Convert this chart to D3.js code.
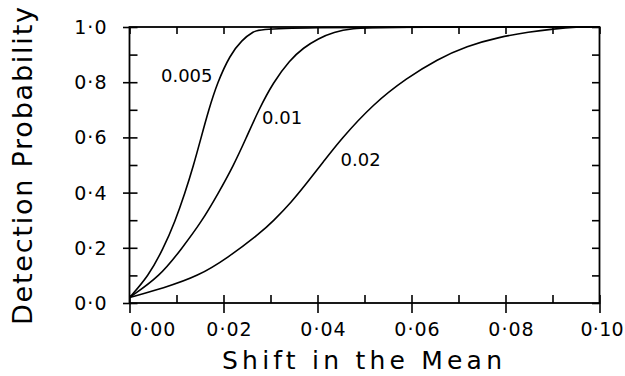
<!DOCTYPE html>
<html>
<head>
<meta charset="utf-8">
<script src="https://cdn.jsdelivr.net/npm/d3@7"></script>
<style>
  html, body { margin: 0; padding: 0; background: #fff; }
  svg { display: block; }
  text { font-family: "DejaVu Sans", "Liberation Sans", sans-serif; fill: #000; }
</style>
</head>
<body>
<svg id="chart" width="625" height="376"></svg>
<script>
// ---- data ----
const seriesNames = ["0.005", "0.01", "0.02"];

const x005 = [0, 0.004, 0.0072, 0.0097, 0.0118, 0.0136, 0.0152, 0.0168, 0.0187, 0.0214, 0.0239, 0.0263, 0.0285, 0.10];
const y005 = [0.02, 0.097, 0.197, 0.296, 0.398, 0.497, 0.597, 0.697, 0.799, 0.899, 0.953, 0.983, 1.0, 1.0];

const x01 = [0, 0.0065, 0.0111, 0.0154, 0.0189, 0.0221, 0.0248, 0.0274, 0.0306, 0.0341, 0.037, 0.0402, 0.0434, 0.0476, 0.052, 0.10];
const y01 = [0.02, 0.097, 0.197, 0.296, 0.398, 0.497, 0.597, 0.697, 0.800, 0.880, 0.925, 0.958, 0.982, 0.995, 1.0, 1.0];

const x02 = [0, 0.0072, 0.0146, 0.021, 0.0278, 0.0306, 0.0345, 0.0377, 0.0412, 0.0448, 0.0519, 0.059, 0.0655, 0.0717, 0.0788, 0.085, 0.0902, 0.095, 0.10];
const y02 = [0.02, 0.054, 0.097, 0.165, 0.253, 0.297, 0.366, 0.434, 0.510, 0.590, 0.722, 0.815, 0.883, 0.931, 0.964, 0.982, 0.993, 1.0, 1.0];

// label anchor points in data units
const labelX = [0.0067, 0.0282, 0.0449];
const labelY = [0.80, 0.649, 0.497];

const xTickValues = [0, 0.02, 0.04, 0.06, 0.08, 0.10];
const xTickLabels = ["0·00", "0·02", "0·04", "0·06", "0·08", "0·10"];
const yTickValues = [0, 0.2, 0.4, 0.6, 0.8, 1.0];
const yTickLabels = ["0·0", "0·2", "0·4", "0·6", "0·8", "1·0"];
const xMinor = [0.01, 0.03, 0.05, 0.07, 0.09];
const yMinor = [0.1, 0.3, 0.5, 0.7, 0.9];
const xAll = [0, 0.01, 0.02, 0.03, 0.04, 0.05, 0.06, 0.07, 0.08, 0.09, 0.10];
const yAll = [0, 0.1, 0.2, 0.3, 0.4, 0.5, 0.6, 0.7, 0.8, 0.9, 1.0];

const xTitle = "Shift in the Mean";
const yTitle = "Detection Probability";

// ---- layout ----
const L = 129.5, R = 599.5, T = 27, B = 303;
const svg = d3.select("#chart");
svg.append("rect").attr("width", 625).attr("height", 376).attr("fill", "#fff");

const x = d3.scaleLinear().domain([0, 0.10]).range([L, R]);
const y = d3.scaleLinear().domain([0, 1]).range([B, T]);

const sw = 1.6;

// bottom axis: major ticks crossing, minor inward
const bottom = svg.append("g").attr("transform", `translate(0,${B})`)
  .call(d3.axisBottom(x).tickValues(xTickValues).tickSize(10).tickFormat(""));
bottom.select(".domain").remove();
bottom.selectAll(".tick line").attr("y1", -8).attr("stroke-width", sw);
bottom.append("g").call(d3.axisBottom(x).tickValues(xMinor).tickSize(-8).tickFormat(""))
  .call(g => g.select(".domain").remove())
  .selectAll(".tick line").attr("stroke-width", sw);
const nX = xTickValues.length;
bottom.selectAll(".xlab").data(xTickValues).enter().append("text")
  .attr("class", "xlab")
  .attr("x", (d, i) => i === 0 ? x(d) + 0.5 : (i === nX - 1 ? 624 : x(d) + 6))
  .attr("y", 33)
  .attr("text-anchor", (d, i) => i === 0 ? "start" : (i === nX - 1 ? "end" : "middle"))
  .attr("font-size", 19)
  .attr("letter-spacing", (d, i) => i === nX - 1 ? 0.3 : 1)
  .text((d, i) => xTickLabels[i]);

// top axis: inward ticks every 0.01
svg.append("g").attr("transform", `translate(0,${T})`)
  .call(d3.axisTop(x).tickValues(xAll).tickSize(-7).tickFormat(""))
  .call(g => g.select(".domain").remove())
  .selectAll(".tick line").attr("stroke-width", sw);

// left axis: major crossing, minor inward
const left = svg.append("g").attr("transform", `translate(${L},0)`)
  .call(d3.axisLeft(y).tickValues(yTickValues).tickSize(6.5).tickFormat(""));
left.select(".domain").remove();
left.selectAll(".tick line").attr("x2", 8).attr("x1", -6.5).attr("stroke-width", sw);
left.append("g").call(d3.axisLeft(y).tickValues(yMinor).tickSize(-8).tickFormat(""))
  .call(g => g.select(".domain").remove())
  .selectAll(".tick line").attr("stroke-width", sw);
left.selectAll(".ylab").data(yTickValues).enter().append("text")
  .attr("class", "ylab")
  .attr("x", -22)
  .attr("y", d => y(d) + 7)
  .attr("text-anchor", "end")
  .attr("font-size", 19)
  .attr("letter-spacing", 1)
  .text((d, i) => yTickLabels[i]);

// right axis: inward ticks every 0.1
svg.append("g").attr("transform", `translate(${R},0)`)
  .call(d3.axisRight(y).tickValues(yAll).tickSize(-7.5).tickFormat(""))
  .call(g => g.select(".domain").remove())
  .selectAll(".tick line").attr("stroke-width", sw);

// frame
svg.append("rect").attr("x", L).attr("y", T).attr("width", R - L).attr("height", B - T)
  .attr("fill", "none").attr("stroke", "#000").attr("stroke-width", 1.8);

// curves
const series = [
  x005.map((v, i) => [v, y005[i]]),
  x01.map((v, i) => [v, y01[i]]),
  x02.map((v, i) => [v, y02[i]])
];
const line = d3.line().x(d => x(d[0])).y(d => y(d[1])).curve(d3.curveBasis);
svg.append("g").selectAll("path").data(series).enter().append("path")
  .attr("d", line).attr("fill", "none").attr("stroke", "#000").attr("stroke-width", 1.6);

// curve labels
svg.append("g").selectAll("text").data(seriesNames).enter().append("text")
  .attr("x", (d, i) => x(labelX[i]))
  .attr("y", (d, i) => y(labelY[i]))
  .attr("font-size", 18)
  .text(d => d);

// axis titles
svg.append("text")
  .attr("x", 222).attr("y", 369)
  .attr("font-size", 25)
  .attr("textLength", 280).attr("lengthAdjust", "spacing")
  .text(xTitle);

svg.append("text")
  .attr("transform", "translate(32,325) rotate(-90)")
  .attr("font-size", 27)
  .attr("textLength", 318).attr("lengthAdjust", "spacing")
  .text(yTitle);
</script>
</body>
</html>
